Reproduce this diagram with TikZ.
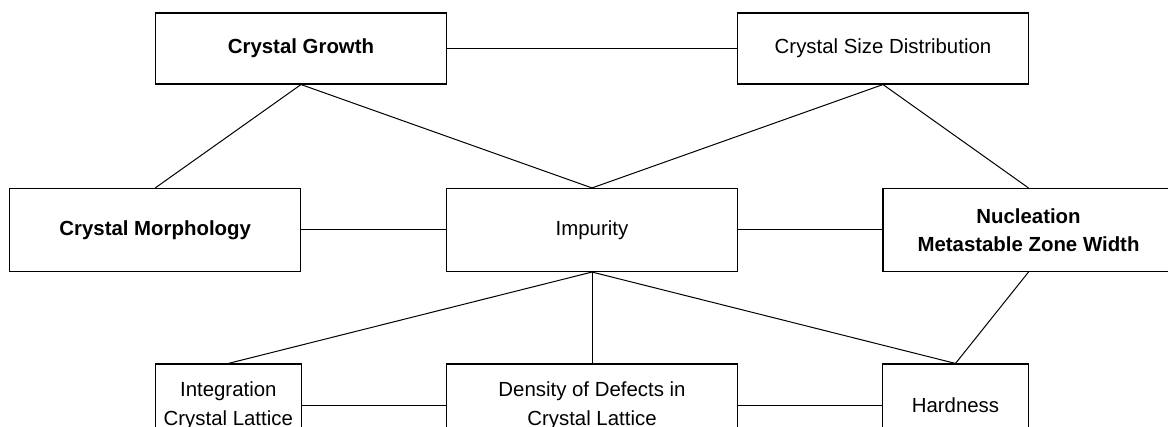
\documentclass[tikz,border=0pt]{standalone}
\usepackage{fontspec}
\setmainfont{Liberation Sans}
\begin{document}
\begin{tikzpicture}[x=1pt,y=-1pt,
  box/.style={draw=black, line width=1.1pt, rectangle, inner sep=0pt, align=center,
    font=\fontsize{20.4}{28.5}\selectfont},
  wide/.style={box, minimum width=291pt},
  narrow/.style={box, minimum width=145.6pt},
  toprow/.style={minimum height=71pt},
  midrow/.style={minimum height=83pt},
  link/.style={draw=black, line width=1pt}]
\useasboundingbox (0,0) rectangle (1168,427);
\clip (0,0) rectangle (1168,427);
% top row
\node[wide,toprow] (growth) at (301,48.5) {\textbf{Crystal Growth}};
\node[wide,toprow] (csd) at (883,48.5) {Crystal Size Distribution};
% middle row
\node[wide,midrow] (morph) at (155.2,230) {\textbf{Crystal Morphology}};
\node[wide,midrow] (imp) at (592,230) {Impurity};
\node[wide,midrow] (nucl) at (1028.5,230) {\textbf{Nucleation}\\\textbf{Metastable Zone Width}};
% bottom row
\node[narrow,midrow] (integ) at (228.3,405.5) {Integration\\Crystal Lattice};
\node[wide,midrow] (dens) at (592,405.5) {Density of Defects in\\Crystal Lattice};
\node[narrow,midrow] (hard) at (955.5,405.5) {Hardness};
% connectors
\draw[link] (growth.east) -- (csd.west);
\draw[link] (growth.south) -- (morph.north);
\draw[link] (growth.south) -- (imp.north);
\draw[link] (csd.south) -- (imp.north);
\draw[link] (csd.south) -- (nucl.north);
\draw[link] (morph.east) -- (imp.west);
\draw[link] (imp.east) -- (nucl.west);
\draw[link] (imp.south) -- (integ.north);
\draw[link] (imp.south) -- (dens.north);
\draw[link] (imp.south) -- (hard.north);
\draw[link] (nucl.south) -- (hard.north);
\draw[link] (integ.east) -- (dens.west);
\draw[link] (dens.east) -- (hard.west);
\end{tikzpicture}
\end{document}
